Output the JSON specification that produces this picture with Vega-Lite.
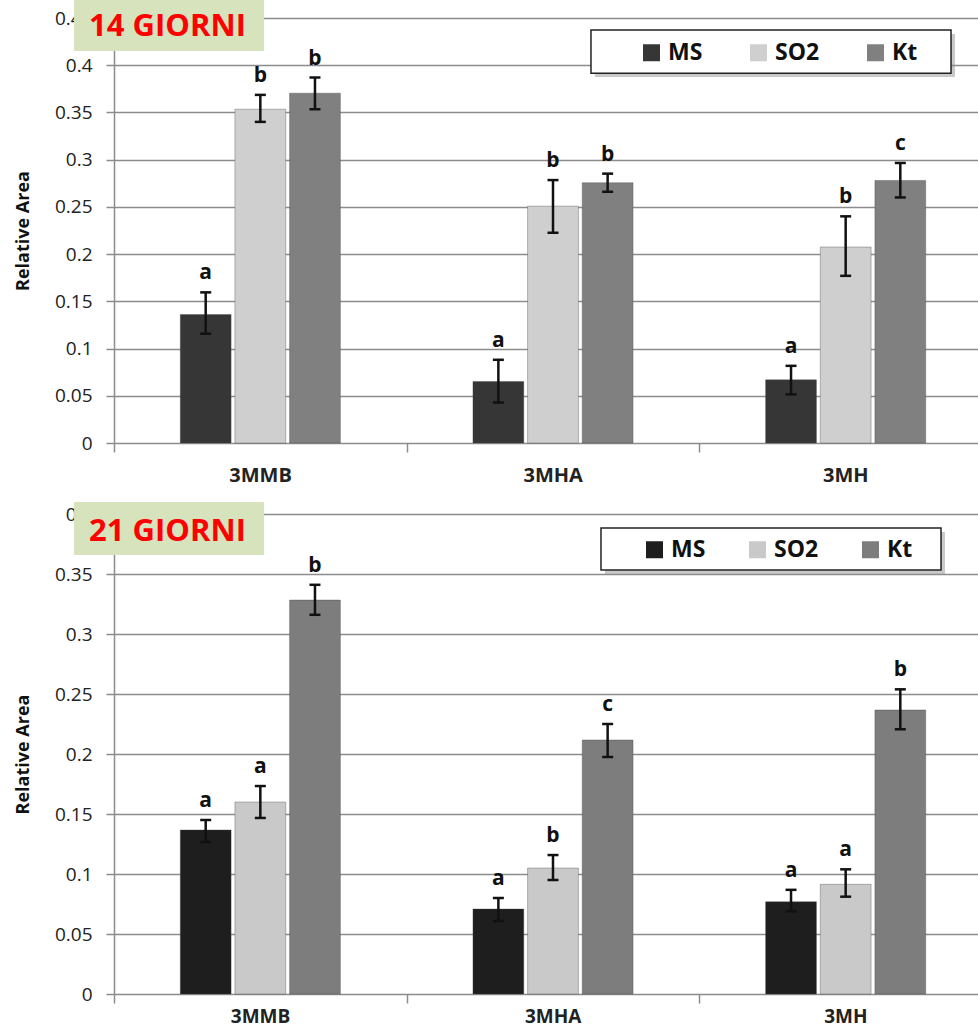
{
  "$schema": "https://vega.github.io/schema/vega-lite/v6.json",
  "padding": {"left": 14, "top": 0, "right": 0, "bottom": 0},
  "background": "white",
  "config": {"view": {"stroke": null}},
  "spacing": 71,
  "bounds": "flush",
  "datasets": {
    "bars": [
      {"panel": "14", "group": "3MMB", "series": "MS", "value": 0.136, "lo": 0.1157, "hi": 0.1595, "letter": "a"},
      {"panel": "14", "group": "3MMB", "series": "SO2", "value": 0.3534, "lo": 0.34, "hi": 0.3686, "letter": "b"},
      {"panel": "14", "group": "3MMB", "series": "Kt", "value": 0.3704, "lo": 0.3534, "hi": 0.387, "letter": "b"},
      {"panel": "14", "group": "3MHA", "series": "MS", "value": 0.0651, "lo": 0.0428, "hi": 0.0881, "letter": "a"},
      {"panel": "14", "group": "3MHA", "series": "SO2", "value": 0.2508, "lo": 0.2226, "hi": 0.2784, "letter": "b"},
      {"panel": "14", "group": "3MHA", "series": "Kt", "value": 0.2756, "lo": 0.266, "hi": 0.2852, "letter": "b"},
      {"panel": "14", "group": "3MH", "series": "MS", "value": 0.0669, "lo": 0.0515, "hi": 0.0817, "letter": "a"},
      {"panel": "14", "group": "3MH", "series": "SO2", "value": 0.2075, "lo": 0.177, "hi": 0.24, "letter": "b"},
      {"panel": "14", "group": "3MH", "series": "Kt", "value": 0.278, "lo": 0.26, "hi": 0.2965, "letter": "c"},
      {"panel": "21", "group": "3MMB", "series": "MS", "value": 0.1367, "lo": 0.1267, "hi": 0.145, "letter": "a"},
      {"panel": "21", "group": "3MMB", "series": "SO2", "value": 0.16, "lo": 0.1467, "hi": 0.1733, "letter": "a"},
      {"panel": "21", "group": "3MMB", "series": "Kt", "value": 0.3283, "lo": 0.316, "hi": 0.341, "letter": "b"},
      {"panel": "21", "group": "3MHA", "series": "MS", "value": 0.0708, "lo": 0.0608, "hi": 0.08, "letter": "a"},
      {"panel": "21", "group": "3MHA", "series": "SO2", "value": 0.105, "lo": 0.095, "hi": 0.1158, "letter": "b"},
      {"panel": "21", "group": "3MHA", "series": "Kt", "value": 0.2117, "lo": 0.1975, "hi": 0.225, "letter": "c"},
      {"panel": "21", "group": "3MH", "series": "MS", "value": 0.0769, "lo": 0.069, "hi": 0.0868, "letter": "a"},
      {"panel": "21", "group": "3MH", "series": "SO2", "value": 0.0914, "lo": 0.0811, "hi": 0.1039, "letter": "a"},
      {"panel": "21", "group": "3MH", "series": "Kt", "value": 0.2367, "lo": 0.2206, "hi": 0.2539, "letter": "b"}
    ],
    "labels": [
      {"panel": "14", "text": "14 GIORNI"},
      {"panel": "21", "text": "21 GIORNI"}
    ]
  },
  "vconcat": [
    {
      "width": 863,
      "height": 425,
      "layer": [
        {
          "data": {"name": "bars"},
          "transform": [{"filter": "datum.panel == '14'"}],
          "layer": [
            {
              "mark": {"type": "bar", "stroke": "#444", "strokeWidth": 0.6, "strokeOpacity": 0.6},
              "encoding": {
                "color": {
                  "field": "series", "type": "nominal", "sort": ["MS", "SO2", "Kt"],
                  "scale": {"domain": ["MS", "SO2", "Kt"], "range": ["#363636", "#cfcfcf", "#808080"]},
                  "legend": {
                    "orient": "none", "legendX": 526, "legendY": 23, "direction": "horizontal", "title": null,
                    "symbolType": "square", "symbolSize": 289, "symbolStrokeWidth": 0, "symbolOpacity": 1,
                    "labelFont": "Open Sans", "labelFontSize": 23, "labelFontWeight": "bold", "labelColor": "#111",
                    "labelOffset": 5, "columnPadding": 44, "padding": 0, "zindex": 3
                  }
                }
              }
            },
            {"mark": {"type": "rule", "strokeWidth": 2.5, "color": "#111"}, "encoding": {"y": {"field": "lo", "type": "quantitative"}, "y2": {"field": "hi"}}},
            {"mark": {"type": "tick", "thickness": 2.5, "size": 11, "color": "#111", "opacity": 1}, "encoding": {"y": {"field": "lo", "type": "quantitative"}}},
            {"mark": {"type": "tick", "thickness": 2.5, "size": 11, "color": "#111", "opacity": 1}, "encoding": {"y": {"field": "hi", "type": "quantitative"}}},
            {"mark": {"type": "text", "font": "Open Sans", "fontSize": 21, "fontWeight": "bold", "color": "#111", "baseline": "alphabetic", "dy": -13}, "encoding": {"y": {"field": "hi", "type": "quantitative"}, "text": {"field": "letter"}}}
          ],
          "encoding": {
            "x": {
              "field": "group", "type": "nominal", "sort": ["3MMB", "3MHA", "3MH"],
              "scale": {"range": [0, 878], "paddingInner": 0.453, "paddingOuter": 0.2265},
              "axis": {"bandPosition": 0, "tickOffset": -66.3, "labelOffset": 66, "domain": false, "tickSize": 9, "tickColor": "#8c8c8c", "tickWidth": 1.5, "labelFont": "Open Sans", "labelFontSize": 20, "labelFontWeight": "bold", "labelColor": "#222", "labelPadding": 13, "labelAngle": 0, "title": null, "grid": false}
            },
            "xOffset": {"field": "series", "type": "nominal", "sort": ["MS", "SO2", "Kt"], "scale": {"paddingInner": 0.07, "paddingOuter": 0}},
            "y": {
              "field": "value", "type": "quantitative",
              "scale": {"domain": [0, 0.45], "nice": false},
              "axis": {"values": [0, 0.05, 0.1, 0.15, 0.2, 0.25, 0.3, 0.35, 0.4, 0.45], "format": ".2~f", "labelFont": "Open Sans", "labelFontSize": 19, "labelColor": "#222", "labelPadding": 14, "tickSize": 8, "tickColor": "#8c8c8c", "tickWidth": 1.5, "domainColor": "#8c8c8c", "domainWidth": 1.5, "gridColor": "#8c8c8c", "gridWidth": 1.5, "title": "Relative Area", "titleFont": "Open Sans", "titleFontSize": 18, "titleFontWeight": "bold", "titleColor": "#111", "titlePadding": 22}
            }
          }
        },
        {
          "data": {"name": "labels"},
          "transform": [{"filter": "datum.panel == '14'"}],
          "layer": [
            {"mark": {"type": "rect", "color": "#d6e3bc"}, "encoding": {"x": {"datum": -0.0463, "type": "quantitative", "scale": {"domain": [0, 1], "nice": false, "zero": false}, "axis": null}, "x2": {"datum": 0.1738}, "y": {"datum": 0.415, "type": "quantitative"}, "y2": {"datum": 0.469}}},
            {"mark": {"type": "text", "font": "Open Sans", "fontSize": 31, "fontWeight": "bold", "color": "#ff0000", "baseline": "middle", "align": "center"}, "encoding": {"x": {"datum": 0.062, "type": "quantitative"}, "y": {"datum": 0.4405, "type": "quantitative"}, "text": {"field": "text"}}},
            {"mark": {"type": "rect", "color": "#888", "opacity": 0.45}, "encoding": {"x": {"datum": 0.5573, "type": "quantitative"}, "x2": {"datum": 0.9745}, "y": {"datum": 0.3874, "type": "quantitative"}, "y2": {"datum": 0.4331}}},
            {"mark": {"type": "rect", "fill": "white", "stroke": "#222", "strokeWidth": 1.5}, "encoding": {"x": {"datum": 0.5527, "type": "quantitative"}, "x2": {"datum": 0.9699}, "y": {"datum": 0.3916, "type": "quantitative"}, "y2": {"datum": 0.4373}}}
          ]
        }
      ],
      "resolve": {"scale": {"x": "independent"}}
    },
    {
      "width": 863,
      "height": 480,
      "layer": [
        {
          "data": {"name": "bars"},
          "transform": [{"filter": "datum.panel == '21'"}],
          "layer": [
            {
              "mark": {"type": "bar", "stroke": "#444", "strokeWidth": 0.6, "strokeOpacity": 0.6},
              "encoding": {
                "color": {
                  "field": "series", "type": "nominal", "sort": ["MS", "SO2", "Kt"],
                  "scale": {"domain": ["MS", "SO2", "Kt"], "range": ["#1e1e1e", "#c9c9c9", "#7d7d7d"]},
                  "legend": {
                    "orient": "none", "legendX": 529, "legendY": 24, "direction": "horizontal", "title": null,
                    "symbolType": "square", "symbolSize": 289, "symbolStrokeWidth": 0, "symbolOpacity": 1,
                    "labelFont": "Open Sans", "labelFontSize": 23, "labelFontWeight": "bold", "labelColor": "#111",
                    "labelOffset": 5, "columnPadding": 40, "padding": 0, "zindex": 3
                  }
                }
              }
            },
            {"mark": {"type": "rule", "strokeWidth": 2.5, "color": "#111"}, "encoding": {"y": {"field": "lo", "type": "quantitative"}, "y2": {"field": "hi"}}},
            {"mark": {"type": "tick", "thickness": 2.5, "size": 11, "color": "#111", "opacity": 1}, "encoding": {"y": {"field": "lo", "type": "quantitative"}}},
            {"mark": {"type": "tick", "thickness": 2.5, "size": 11, "color": "#111", "opacity": 1}, "encoding": {"y": {"field": "hi", "type": "quantitative"}}},
            {"mark": {"type": "text", "font": "Open Sans", "fontSize": 21, "fontWeight": "bold", "color": "#111", "baseline": "alphabetic", "dy": -13}, "encoding": {"y": {"field": "hi", "type": "quantitative"}, "text": {"field": "letter"}}}
          ],
          "encoding": {
            "x": {
              "field": "group", "type": "nominal", "sort": ["3MMB", "3MHA", "3MH"],
              "scale": {"range": [0, 878], "paddingInner": 0.453, "paddingOuter": 0.2265},
              "axis": {"bandPosition": 0, "tickOffset": -66.3, "labelOffset": 66, "domain": false, "tickSize": 9, "tickColor": "#8c8c8c", "tickWidth": 1.5, "labelFont": "Open Sans", "labelFontSize": 19, "labelFontWeight": "bold", "labelColor": "#222", "labelPadding": 4, "labelAngle": 0, "title": null, "grid": false}
            },
            "xOffset": {"field": "series", "type": "nominal", "sort": ["MS", "SO2", "Kt"], "scale": {"paddingInner": 0.07, "paddingOuter": 0}},
            "y": {
              "field": "value", "type": "quantitative",
              "scale": {"domain": [0, 0.4], "nice": false},
              "axis": {"values": [0, 0.05, 0.1, 0.15, 0.2, 0.25, 0.3, 0.35, 0.4], "format": ".2~f", "labelFont": "Open Sans", "labelFontSize": 19, "labelColor": "#222", "labelPadding": 14, "tickSize": 8, "tickColor": "#8c8c8c", "tickWidth": 1.5, "domainColor": "#8c8c8c", "domainWidth": 1.5, "gridColor": "#8c8c8c", "gridWidth": 1.5, "title": "Relative Area", "titleFont": "Open Sans", "titleFontSize": 18, "titleFontWeight": "bold", "titleColor": "#111", "titlePadding": 22}
            }
          }
        },
        {
          "data": {"name": "labels"},
          "transform": [{"filter": "datum.panel == '21'"}],
          "layer": [
            {"mark": {"type": "rect", "color": "#d6e3bc"}, "encoding": {"x": {"datum": -0.0463, "type": "quantitative", "scale": {"domain": [0, 1], "nice": false, "zero": false}, "axis": null}, "x2": {"datum": 0.1738}, "y": {"datum": 0.3658, "type": "quantitative"}, "y2": {"datum": 0.41}}},
            {"mark": {"type": "text", "font": "Open Sans", "fontSize": 31, "fontWeight": "bold", "color": "#ff0000", "baseline": "middle", "align": "center"}, "encoding": {"x": {"datum": 0.062, "type": "quantitative"}, "y": {"datum": 0.385, "type": "quantitative"}, "text": {"field": "text"}}},
            {"mark": {"type": "rect", "color": "#888", "opacity": 0.45}, "encoding": {"x": {"datum": 0.5689, "type": "quantitative"}, "x2": {"datum": 0.9629}, "y": {"datum": 0.35, "type": "quantitative"}, "y2": {"datum": 0.385}}},
            {"mark": {"type": "rect", "fill": "white", "stroke": "#222", "strokeWidth": 1.5}, "encoding": {"x": {"datum": 0.5643, "type": "quantitative"}, "x2": {"datum": 0.9583}, "y": {"datum": 0.3533, "type": "quantitative"}, "y2": {"datum": 0.3883}}}
          ]
        }
      ],
      "resolve": {"scale": {"x": "independent"}}
    }
  ],
  "resolve": {"scale": {"color": "independent", "y": "independent", "x": "independent"}, "legend": {"color": "independent"}}
}
